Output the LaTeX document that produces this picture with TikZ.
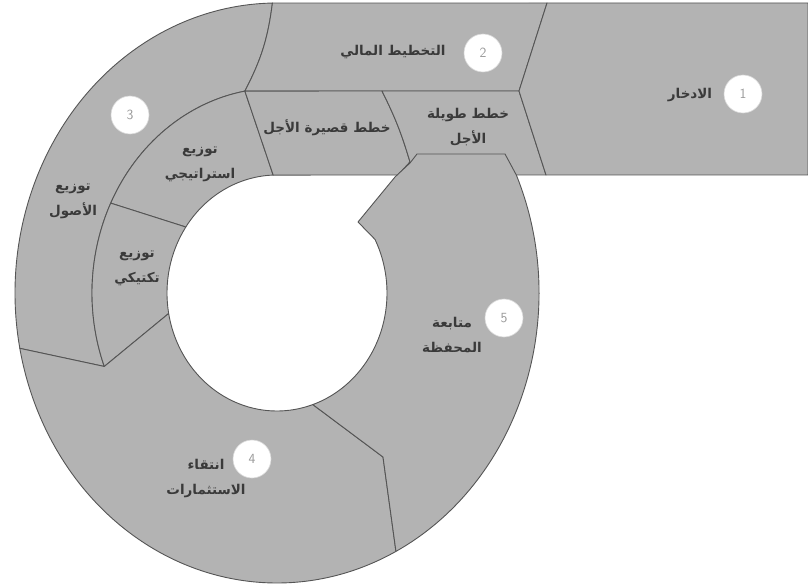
\documentclass[tikz,border=0pt]{standalone}
\usepackage{fontspec}
\newfontfamily\arabicfont[Script=Arabic]{DejaVu Sans}
\TeXXeTstate=1
\usepackage{xcolor}
\usepackage{tikz}
\usetikzlibrary{calc}
\definecolor{segfill}{HTML}{B3B3B3}
\definecolor{segline}{HTML}{555555}
\definecolor{labtext}{HTML}{3A3A3A}
\definecolor{numtext}{HTML}{999999}
\newcommand{\artxt}[1]{\beginR #1\endR}
\tikzset{
  seg/.style={fill=segfill, draw=segline, line width=0.9pt, line join=round},
  lbl/.style={font=\arabicfont\bfseries\fontsize{13.5}{25}\selectfont,
              text=labtext, align=center, inner sep=0pt},
  numc/.style={circle, fill=white, draw=white!85!black, line width=0.6pt,
               minimum size=38pt, inner sep=0pt,
               font=\sffamily\fontsize{14}{14}\selectfont, text=numtext},
}

\begin{document}
\begin{tikzpicture}[x=1pt, y=-1pt]
\useasboundingbox (0,0) rectangle (808,588);

% ---- key points on the three ellipses (centre 277,293) ----
\coordinate (oL) at ({277+262*cos(169)},{293+290*sin(169)});
\coordinate (oT) at ({277+262*cos(269)},{293+290*sin(269)});
\coordinate (oB) at ({277+262*cos(63)},{293+290*sin(63)});
\coordinate (oR) at ({277+262*cos(-24)},{293+290*sin(-24)});
\coordinate (mT) at ({277+185*cos(260)},{293+205*sin(260)});
\coordinate (mS) at ({277+185*cos(206)},{293+205*sin(206)});
\coordinate (mB) at ({277+185*cos(159)},{293+205*sin(159)});
\coordinate (iS) at ({277+110*cos(214)},{293+118*sin(214)});
\coordinate (iT) at ({277+110*cos(268)},{293+118*sin(268)});
\coordinate (iL) at ({277+110*cos(170)},{293+118*sin(170)});
\coordinate (iB) at ({277+110*cos(71)},{293+118*sin(71)});
\coordinate (sl) at (382,91);
\coordinate (sr) at (410,162);
\coordinate (sb) at (398,175);
\coordinate (ch) at (519,91);
\coordinate (kb) at (383,457);

% ---- 3: asset allocation (outer ring) ----
\path[seg] (oL) arc[start angle=-169, end angle=-269, x radius=262pt, y radius=290pt]
  to[bend left=10] (mT)
  arc[start angle=-260, end angle=-159, x radius=185pt, y radius=205pt] -- cycle;

% ---- 2: financial planning ----
\path[seg] (oT) -- (547,3) -- (ch) -- (mT) to[bend right=10] (oT) -- cycle;

% ---- strategic / tactical ----
\path[seg] (mT) arc[start angle=-260, end angle=-206, x radius=185pt, y radius=205pt]
  -- (iS) arc[start angle=-214, end angle=-268, x radius=110pt, y radius=118pt]
  -- cycle;
\path[seg] (mS) arc[start angle=-206, end angle=-159, x radius=185pt, y radius=205pt]
  -- (iL) arc[start angle=-170, end angle=-214, x radius=110pt, y radius=118pt]
  -- cycle;

% ---- 4: selecting investments ----
\path[seg] (oL) -- (mB) -- (iL)
  arc[start angle=-170, end angle=-71, x radius=110pt, y radius=118pt]
  -- (kb) -- (oB)
  arc[start angle=-63, end angle=-169, x radius=262pt, y radius=290pt] -- cycle;

% ---- short / long term plans ----
\path[seg] (mT) -- (sl) to[bend left=5] (sr) -- (sb) -- (iT) -- cycle;
\path[seg] (sl) -- (ch) -- (546,175) -- (sb) -- (sr) to[bend right=5] (sl) -- cycle;

% ---- 1: savings ----
\path[seg] (547,3) -- (808,3) -- (808,175) -- (546,175) -- (ch) -- cycle;

% ---- 5: portfolio monitoring ----
\path[seg] (417,154) -- (505,154) -- (oR)
  arc[start angle=24, end angle=-63, x radius=262pt, y radius=290pt]
  -- (kb) -- (iB)
  arc[start angle=-71, end angle=27, x radius=110pt, y radius=118pt]
  -- (358,222) -- (395,177) -- (410,163) -- cycle;

% ---- labels ----
\node[lbl] (savings) at (690,95) {\artxt{الادخار}};
\node[lbl] (finplan) at (393,52) {\artxt{التخطيط المالي}};
\node[lbl] (shortp) at (327,128) {\artxt{خطط قصيرة الأجل}};
\node[lbl] (longp) at (468,127) {\artxt{خطط طويلة}\\\artxt{الأجل}};
\node[lbl] (assets) at (73,201) {\artxt{توزيع}\\\artxt{الأصول}};
\node[lbl] (strat) at (200,164) {\artxt{توزيع}\\\artxt{استراتيجي}};
\node[lbl] (tact) at (137,268) {\artxt{توزيع}\\\artxt{تكتيكي}};
\node[lbl] (select) at (206,479) {\artxt{انتقاء}\\\artxt{الاستثمارات}};
\node[lbl] (monitor) at (452,335) {\artxt{متابعة}\\\artxt{المحفظة}};

% ---- step numbers ----
\node[numc] (n1) at (743,94) {1};
\node[numc] (n2) at (483,53) {2};
\node[numc] (n3) at (130,115) {3};
\node[numc] (n4) at (252,459) {4};
\node[numc] (n5) at (504,318) {5};

\end{tikzpicture}
\end{document}
